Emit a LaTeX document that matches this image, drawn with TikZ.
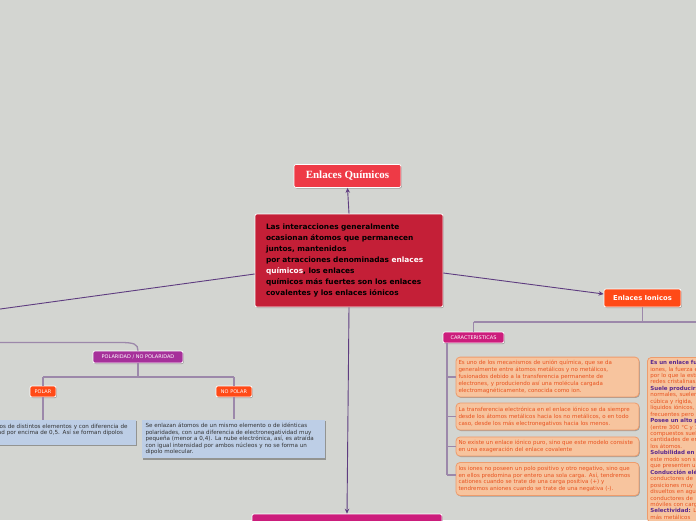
\documentclass[tikz,border=0pt]{standalone}
\usepackage{fontspec}
\setmainfont{DejaVu Sans}
\newfontfamily\tfont{Liberation Serif}
\usetikzlibrary{arrows.meta,shadows,calc}
\definecolor{bg}{HTML}{D3D5D1}
\definecolor{titlered}{HTML}{EE3A46}
\definecolor{crimson}{HTML}{C41F37}
\definecolor{orangered}{HTML}{FF4A17}
\definecolor{magen}{HTML}{CC1D7C}
\definecolor{purplemag}{HTML}{A6309A}
\definecolor{salmon}{HTML}{F7C49E}
\definecolor{salmonline}{HTML}{EE9C6C}
\definecolor{salmontext}{HTML}{E8521E}
\definecolor{boldpurple}{HTML}{5A2A8E}
\definecolor{bluebox}{HTML}{BDCEE6}
\definecolor{linep}{HTML}{5E3C80}
\definecolor{branchc}{HTML}{9C88AA}
\definecolor{darktext}{HTML}{333333}
\tikzset{
  conn/.style={draw=linep, line width=0.9pt},
  arr/.style={-{Stealth[length=5pt,width=4.5pt]}},
  br/.style={draw=branchc, line width=1.3pt},
  shad/.style={drop shadow={shadow xshift=0.8pt,shadow yshift=-1pt,opacity=0.25,fill=black}},
  tagbox/.style={shad, draw=white, line width=0.7pt, rounded corners=2pt, inner sep=0pt, text=white},
  salbox/.style={shad, draw=salmonline, line width=0.8pt, fill=salmon, rounded corners=4pt, text=salmontext,
     font=\fontsize{5.5}{6.9}\selectfont, align=left, text width=178pt, inner xsep=2.5pt},
  bluebx/.style={drop shadow={shadow xshift=1pt,shadow yshift=-1.2pt,opacity=0.3,fill=black}, fill=bluebox, text=darktext,
     font=\fontsize{5.6}{6.6}\selectfont, align=left, inner xsep=3.5pt}
}
\newcommand{\bp}[1]{\textcolor{boldpurple}{\bfseries #1}}
\begin{document}
\begin{tikzpicture}[x=1pt,y=-1pt]
\useasboundingbox (0,0) rectangle (696,520);
\fill[bg] (0,0) rectangle (696,520);
\clip (0,0) rectangle (696,520);

% off-canvas coordinates
\coordinate (offL) at (-100,322.8);
\coordinate (offPL) at (-40,342.5);
\coordinate (offR) at (720,322);

% nodes
\node[tagbox, fill=titlered, minimum width=107pt, minimum height=23pt, font=\tfont\bfseries\fontsize{11}{13}\selectfont] (title) at (347.5,176) {Enlaces Químicos};

\node[tagbox, fill=crimson, minimum width=188pt, minimum height=93pt, text=black, align=left, text width=166pt,
  font=\bfseries\fontsize{7.4}{11}\selectfont] (cen) at (349,260.5)
  {Las interacciones generalmente\\ocasionan átomos que permanecen\\juntos, mantenidos\\por atracciones denominadas \textcolor{white}{enlaces}\\\textcolor{white}{químicos}, los enlaces\\químicos más fuertes son los enlaces\\covalentes y los enlaces iónicos};

\node[tagbox, fill=orangered, minimum width=77pt, minimum height=18pt, font=\bfseries\fontsize{6.8}{8}\selectfont] (ion) at (642.5,298) {Enlaces Ionicos};

\node[tagbox, fill=magen, minimum width=61pt, minimum height=11pt, font=\fontsize{5}{6}\selectfont] (car) at (473.5,337.5) {CARACTERISTICAS};

\node[salbox, minimum height=38pt] (b1) at (547.5,377)
 {Es uno de los mecanismos de unión química, que se da\\generalmente entre átomos metálicos y no metálicos,\\fusionados debido a la transferencia permanente de\\electrones, y produciendo así una molécula cargada\\electromagnéticamente, conocida como ion.};
\node[salbox, minimum height=27pt] (b2) at (547.5,416.5)
 {La transferencia electrónica en el enlace iónico se da siempre\\desde los átomos metálicos hacia los no metálicos, o en todo\\caso, desde los más electronegativos hacia los menos.};
\node[salbox, minimum height=19pt] (b3) at (547.5,446.5)
 {No existe un enlace iónico puro, sino que este modelo consiste\\en una exageración del enlace covalente};
\node[salbox, minimum height=33pt] (b4) at (547.5,479)
 {los iones no poseen un polo positivo y otro negativo, sino que\\en ellos predomina por entero una sola carga. Así, tendremos\\cationes cuando se trate de una carga positiva (+) y\\tendremos aniones cuando se trate de una negativa (-).};

\node[salbox, anchor=north west, text width=100pt, inner xsep=3pt, inner ysep=3pt,
  font=\fontsize{5.5}{6.45}\selectfont] (b5) at (647,357)
 {\bp{Es un enlace fuerte}\\iones, la fuerza electrostática\\por lo que la estructura\\redes cristalinas.\\\bp{Suele producirse}\\normales, suelen ser\\cúbica y rígida,\\líquidos iónicos,\\frecuentes pero\\\bp{Posee un alto punto}\\(entre 300 °C y 1000 °C)\\compuestos suelen\\cantidades de energía\\los átomos.\\\bp{Solubilidad en agua}\\este modo son solubles\\que presenten un\\\bp{Conducción eléctrica}\\conductores de\\posiciones muy\\disueltos en agua\\conductores de\\móviles con carga\\\bp{Selectividad:} Los\\más metálicos\\};

\node[tagbox, fill=purplemag, minimum width=90pt, minimum height=12pt, font=\fontsize{5}{6}\selectfont] (pol) at (138,357) {POLARIDAD / NO POLARIDAD};
\node[tagbox, fill=orangered, minimum width=26pt, minimum height=11pt, font=\fontsize{5}{6}\selectfont] (polar) at (43,391.5) {POLAR};
\node[tagbox, fill=orangered, minimum width=36pt, minimum height=11pt, font=\fontsize{5}{6}\selectfont] (nopolar) at (234,391.5) {NO POLAR};

\node[bluebx, minimum width=187pt, minimum height=25pt, text width=180pt] (lb) at (42.5,432.5)
 {Se enlazan átomos de distintos elementos y con diferencia de\\electronegatividad por encima de 0,5. Así se forman dipolos\\eléctricos.};
\node[bluebx, minimum width=183pt, minimum height=38pt, text width=176pt] (rb) at (233.5,439)
 {Se enlazan átomos de un mismo elemento o de idénticas\\polaridades, con una diferencia de electronegatividad muy\\pequeña (menor a 0,4). La nube electrónica, así, es atraída\\con igual intensidad por ambos núcleos y no se forma un\\dipolo molecular.};

\node[tagbox, fill=magen, minimum width=190pt, minimum height=52pt] (bot) at (347,540) {};

% connectors
\draw[conn, arr] (cen.north) -- (title.south);
\draw[conn, arr] (cen.south) -- (bot.north);
\draw[conn, arr] ($(cen.east)+(0,12.5)$) -- ($(ion.west)+(0,-4)$);
\draw[conn, arr] ($(cen.west)+(0,13.5)$) -- (offL);

\draw[br] (ion.south) -- (ion.south |- 0,322);
\draw[br] (car.north |- 0,322) -- (offR);
\draw[br] (car.north |- 0,322) -- (car.north);
\draw[br] (447,343) -- (447,475);
\draw[br] (447,377) -- (b1.west);
\draw[br] (447,416.5) -- (b2.west);
\draw[br] (447,446.5) -- (b3.west);
\draw[br] (447,475) -- (455.5,475);

\draw[br] (pol.north) .. controls (138,344) and (134,342.5) .. (120,342.5) -- (offPL);
\draw[br] (pol.south) -- (138,377);
\draw[br] (polar.north |- 0,377) -- (nopolar.north |- 0,377);
\draw[br] (polar.north |- 0,377) -- (polar.north);
\draw[br] (nopolar.north |- 0,377) -- (nopolar.north);
\draw[br] (polar.south) -- (polar.south |- lb.north);
\draw[br] (nopolar.south) -- (nopolar.south |- rb.north);
\end{tikzpicture}
\end{document}
